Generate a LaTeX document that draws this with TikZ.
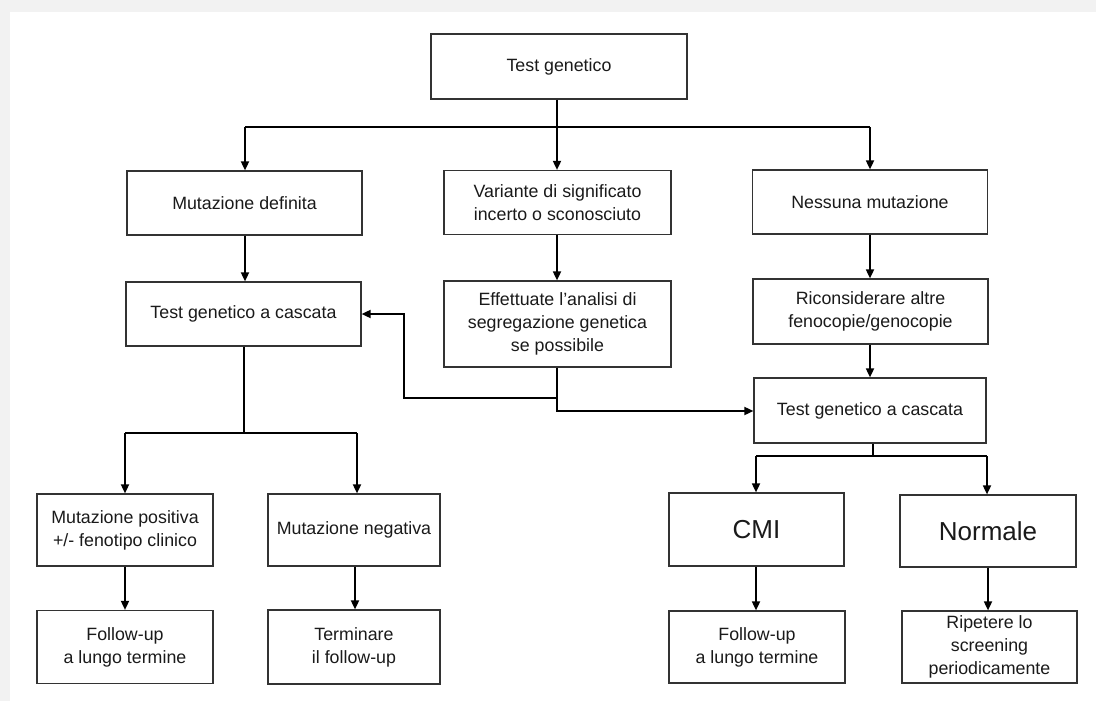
\documentclass[tikz,border=0pt]{standalone}
\usepackage{fontspec}
\setmainfont{Liberation Sans}
\usetikzlibrary{arrows.meta}
\definecolor{bordergray}{HTML}{333333}
\definecolor{textblack}{HTML}{1A1A1A}
\definecolor{bggray}{HTML}{F2F2F2}
\tikzset{
  box/.style={draw=bordergray, line width=1.2pt, fill=white, align=center, inner sep=2pt,
    text=textblack, font=\fontsize{17.8}{22.8}\selectfont},
  bigbox/.style={box, font=\fontsize{26}{30}\selectfont},
  arr/.style={line width=1.7pt, -{Triangle[length=9pt,width=8pt]}},
  bus/.style={line width=2.2pt},
}
\begin{document}
\begin{tikzpicture}[x=1pt,y=-1pt]
\useasboundingbox (0,0) rectangle (1096,701);
\fill[bggray] (0,0) rectangle (1096,701);
\fill[white] (10,12) rectangle (1096,701);

% nodes
\node[box, minimum width=256, minimum height=65] (tg) at (559,66.5) {Test genetico};
\node[box, minimum width=235, minimum height=64] (md) at (244.5,203) {Mutazione definita};
\node[box, minimum width=227, minimum height=64] (var) at (557.5,202.5) {Variante di significato\\incerto o sconosciuto};
\node[box, minimum width=235, minimum height=64] (nm) at (870,202) {Nessuna mutazione};
\node[box, minimum width=235, minimum height=64] (tcl) at (243.5,314) {Test genetico a cascata};
\node[box, minimum width=227, minimum height=86] (eff) at (557.5,324) {Effettuate l’analisi di\\segregazione genetica\\se possibile};
\node[box, minimum width=235, minimum height=65] (ric) at (870.5,311.5) {Riconsiderare altre\\fenocopie/genocopie};
\node[box, minimum width=232, minimum height=65] (tcr) at (870,410.5) {Test genetico a cascata};
\node[box, minimum width=176, minimum height=72] (mp) at (125,530) {Mutazione positiva\\+/- fenotipo clinico};
\node[box, minimum width=172, minimum height=72] (mn) at (354,530) {Mutazione negativa};
\node[box, minimum width=176, minimum height=73] (fu1) at (125,647) {Follow-up\\a lungo termine};
\node[box, minimum width=172, minimum height=74] (term) at (354,647) {Terminare\\il follow-up};
\node[bigbox, minimum width=175, minimum height=73] (cmi) at (756.5,529.5) {CMI};
\node[bigbox, minimum width=176, minimum height=72] (norm) at (988,531) {Normale};
\node[box, minimum width=176, minimum height=72] (fu2) at (757,647) {Follow-up\\a lungo termine};
\node[box, minimum width=175, minimum height=72] (rip) at (989.5,647) {Ripetere lo\\screening\\periodicamente};

% top bus
\coordinate (b1) at (557,127);
\coordinate (bl) at (245,127);
\coordinate (br) at (870,127);
\draw[bus] (tg.south -| b1) -- (b1);
\draw[bus] (bl) -- (br);
\draw[arr] (bl) -- (bl |- md.north);
\draw[arr] (b1) -- (b1 |- var.north);
\draw[arr] (br) -- (br |- nm.north);

% second level
\draw[arr] (md.south -| bl) -- (bl |- tcl.north);
\draw[arr] (var.south -| b1) -- (b1 |- eff.north);
\draw[arr] (nm.south -| br) -- (br |- ric.north);
\draw[arr] (ric.south -| br) -- (br |- tcr.north);

% effettuate connectors
\coordinate (e1) at (557,398);
\coordinate (e2) at (404,398);
\coordinate (e3) at (404,314);
\coordinate (e4) at (557,411);
\draw[arr] (eff.south -| e1) -- (e1) -- (e2) -- (e3) -- (tcl.east);
\draw[arr] (e1) -- (e4) -- (e4 -| tcr.west);

% left cascade
\coordinate (lc) at (244,433);
\coordinate (lcl) at (125,433);
\coordinate (lcr) at (357,433);
\coordinate (lm) at (355,0);
\draw[bus] (tcl.south -| lc) -- (lc);
\draw[bus] (lcl) -- (lcr);
\draw[arr] (lcl) -- (lcl |- mp.north);
\draw[arr] (lcr) -- (lcr |- mn.north);
\draw[arr] (mp.south) -- (fu1.north);
\draw[arr] (mn.south -| lm) -- (lm |- term.north);

% right cascade
\coordinate (rc) at (873,456);
\coordinate (rcl) at (756,456);
\coordinate (rcr) at (987,456);
\coordinate (rm1) at (756,0);
\coordinate (rm2) at (988,0);
\draw[bus] (tcr.south -| rc) -- (rc);
\draw[bus] (rcl) -- (rcr);
\draw[arr] (rcl) -- (rcl |- cmi.north);
\draw[arr] (rcr) -- (rcr |- norm.north);
\draw[arr] (cmi.south -| rm1) -- (rm1 |- fu2.north);
\draw[arr] (norm.south -| rm2) -- (rm2 |- rip.north);
\end{tikzpicture}
\end{document}
